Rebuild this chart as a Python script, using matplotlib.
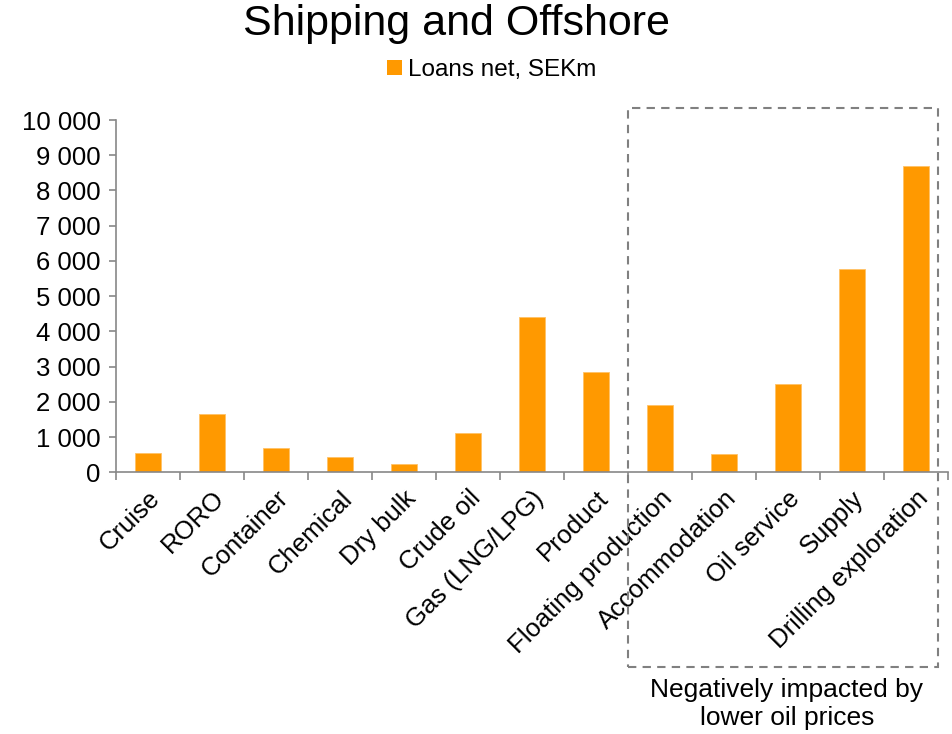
import matplotlib
matplotlib.use("Agg")
import matplotlib.pyplot as plt
from matplotlib.patches import Rectangle, Patch
import numpy as np

plt.rcParams['font.family'] = ['Liberation Sans', 'DejaVu Sans']

categories = ["Cruise", "RORO", "Container", "Chemical", "Dry bulk", "Crude oil",
              "Gas (LNG/LPG)", "Product", "Floating production", "Accommodation",
              "Oil service", "Supply", "Drilling exploration"]
loans = [550, 1650, 700, 430, 240, 1120, 4410, 2840, 1910, 520, 2500, 5770, 8690]
yticks = [0, 1000, 2000, 3000, 4000, 5000, 6000, 7000, 8000, 9000, 10000]
ytick_labels = ["0", "1 000", "2 000", "3 000", "4 000", "5 000", "6 000",
                "7 000", "8 000", "9 000", "10 000"]

W, H = 953, 734
fig = plt.figure(figsize=(W / 100, H / 100), dpi=100)
ax = fig.add_axes([116 / W, 1 - 472.3 / H, (948 - 116) / W, (472.3 - 120) / H])

x = np.arange(len(categories))
ax.bar(x, loans, width=0.4, color="#FF9900", edgecolor="#FFC266", linewidth=0.6,
       label="Loans net, SEKm")

ax.set_xlim(-0.5, len(categories) - 0.5)
ax.set_ylim(0, 10000)
ax.set_yticks(yticks)
ax.set_yticklabels(ytick_labels, fontsize=18.5)

ax.set_xticks(np.arange(len(categories) + 1) - 0.5)
ax.set_xticklabels([])
ax.set_xticks(x, minor=True)
ax.set_xticklabels(categories, minor=True, rotation=45, ha="right",
                   rotation_mode="anchor", fontsize=18.5)
ax.tick_params(axis="x", which="minor", length=0, pad=10)
ax.tick_params(axis="x", which="major", length=6, color="#888888", width=1.2)
ax.tick_params(axis="y", length=5, color="#888888", width=1.2, pad=6)

for s in ["top", "right"]:
    ax.spines[s].set_visible(False)
for s in ["left", "bottom"]:
    ax.spines[s].set_color("#888888")
    ax.spines[s].set_linewidth(1.2)

fig.text(457 / W, 1 - 24 / H, "Shipping and Offshore", fontsize=31,
         ha="center", va="center")

leg = fig.legend(handles=[Patch(facecolor="#FF9900", edgecolor="none",
                                label="Loans net, SEKm")],
                 loc="center", bbox_to_anchor=(492 / W, 1 - 70 / H),
                 frameon=False, fontsize=17.5, handlelength=0.6, handleheight=0.6,
                 handletextpad=0.25)

rect = Rectangle((628 / W, 1 - 667 / H), (938 - 628) / W, (667 - 108) / H,
                 transform=fig.transFigure, fill=False, edgecolor="#808080",
                 linewidth=1.5, linestyle=(0, (4, 3)))
fig.add_artist(rect)

fig.text(787 / W, 1 - 704 / H, "Negatively impacted by\nlower oil prices",
         fontsize=19, ha="center", va="center", linespacing=1.2)

fig.savefig("out.png", dpi=100)
